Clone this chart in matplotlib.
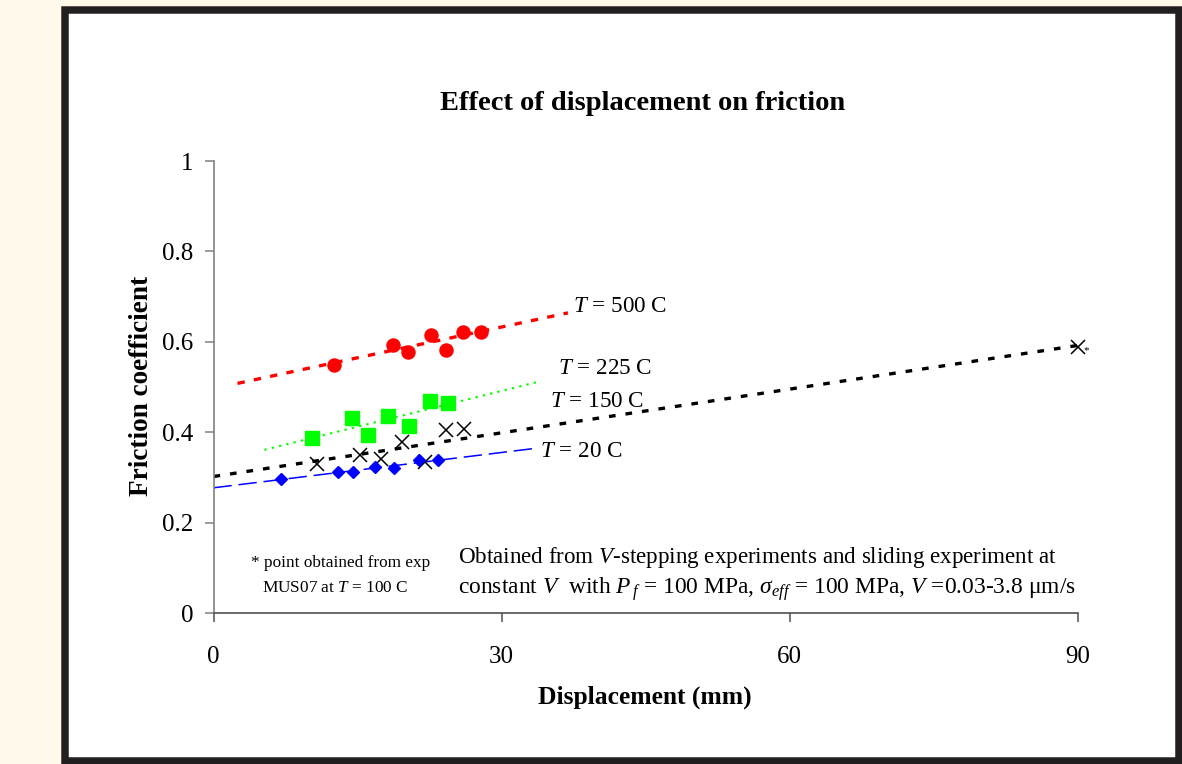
import matplotlib
matplotlib.use("Agg")
import matplotlib.pyplot as plt
from matplotlib.patches import Rectangle

plt.rcParams['font.family'] = ['Liberation Serif', 'DejaVu Serif']
plt.rcParams['mathtext.fontset'] = 'custom'
plt.rcParams['mathtext.rm'] = 'Liberation Serif'
plt.rcParams['mathtext.it'] = 'Liberation Serif:italic'
plt.rcParams['mathtext.bf'] = 'Liberation Serif:bold'

# ---------------- data ----------------
x_500 = [12.5, 18.7, 20.3, 22.6, 24.2, 26.0, 27.8]
y_500 = [0.549, 0.594, 0.578, 0.615, 0.582, 0.622, 0.622]

x_225 = [10.3, 14.4, 16.1, 18.2, 20.4, 22.5, 24.4]
y_225 = [0.388, 0.432, 0.393, 0.436, 0.414, 0.469, 0.465]

x_150 = [10.8, 15.3, 17.4, 19.6, 22.0, 24.2, 26.1, 90.0]
y_150 = [0.330, 0.350, 0.340, 0.379, 0.333, 0.405, 0.408, 0.588]

x_20 = [7.0, 13.0, 14.5, 16.8, 18.8, 21.4, 23.4]
y_20 = [0.296, 0.313, 0.312, 0.322, 0.320, 0.338, 0.338]

# trend lines (end points)
trend_500_x = [2.5, 36.9]
trend_500_y = [0.508, 0.664]
trend_225_x = [5.3, 34.1]
trend_225_y = [0.361, 0.513]
trend_150_x = [0.0, 90.0]
trend_150_y = [0.302, 0.592]
trend_20_x = [0.0, 33.4]
trend_20_y = [0.277, 0.364]

xticks = [0, 30, 60, 90]
xtick_labels = ['0', '30', '60', '90']
yticks = [0, 0.2, 0.4, 0.6, 0.8, 1.0]
ytick_labels = ['0', '0.2', '0.4', '0.6', '0.8', '1']

# ---------------- figure ----------------
W, H = 1182, 764
fig = plt.figure(figsize=(W / 100, H / 100), dpi=100, facecolor='#fef9ea')

# white framed panel
fig.patches.append(Rectangle((64.5 / W, 1 - 760.5 / H), (1178.5 - 64.5) / W, (760.5 - 10) / H,
                             transform=fig.transFigure, facecolor='white',
                             edgecolor='#231f20', linewidth=5.4, joinstyle='miter', zorder=-5))

ax_l, ax_r, ax_t, ax_b = 213.5, 1078.0, 161.0, 613.0
ax = fig.add_axes([ax_l / W, 1 - ax_b / H, (ax_r - ax_l) / W, (ax_b - ax_t) / H])
ax.set_facecolor('none')
ax.set_zorder(2)

# trend lines
ax.plot(trend_500_x, trend_500_y, color='#ff0000', lw=2.4, linestyle=(0, (2.2, 2.8)), zorder=2)
ax.plot(trend_225_x, trend_225_y, color='#00ff00', lw=1.5, linestyle=(0, (1.1, 2.5)), zorder=2)
ax.plot(trend_150_x, trend_150_y, color='black', lw=2.4, linestyle=(0, (2.0, 3.0)), zorder=2)
ax.plot(trend_20_x, trend_20_y, color='#0000ff', lw=1.1, linestyle=(0, (12, 4.5)), zorder=2)

# points
ax.plot(x_500, y_500, 'o', color='#ff0000', ms=9.4, mec='#ff0000', zorder=3)
ax.plot(x_225, y_225, 's', color='#00ff00', ms=9.4, mec='#00ff00', zorder=3)
ax.plot(x_150, y_150, 'x', color='black', ms=9.5, mew=1.1, zorder=3, clip_on=False)
ax.plot(x_20, y_20, 'D', color='#0000ff', ms=6.0, mec='#0000ff', zorder=3)

ax.set_xlim(0, 90)
ax.set_ylim(0, 1)
ax.set_xticks(xticks)
ax.set_xticklabels(xtick_labels)
ax.set_yticks(yticks)
ax.set_yticklabels(ytick_labels)

for s in ['top', 'right']:
    ax.spines[s].set_visible(False)
ax.spines['left'].set_color('#808080')
ax.spines['bottom'].set_color('#505050')
ax.spines['left'].set_linewidth(1.2)
ax.spines['bottom'].set_linewidth(1.2)
ax.tick_params(axis='y', direction='out', length=6.3, width=1.1, color='#808080',
               labelsize=18, pad=8)
ax.tick_params(axis='x', direction='out', length=6.3, width=1.1, color='#505050',
               labelsize=18, pad=17.5)

# series labels
lab_kw = dict(fontsize=16.7, va='center', ha='left', clip_on=False)
ax.text(37.4, 0.678, r'$T$ = 500 C', **lab_kw)
ax.text(35.9, 0.542, r'$T$ = 225 C', **lab_kw)
ax.text(35.0, 0.468, r'$T$ = 150 C', **lab_kw)
ax.text(34.0, 0.357, r'$T$ = 20 C', **lab_kw)
ax.text(90.9, 0.581, '*', fontsize=8, ha='center', va='center', clip_on=False)

# notes
ax.text(13.2, 0.102, '* point obtained from exp', fontsize=12.4, ha='center', va='baseline')
ax.text(12.7, 0.046, r'MUS07 at $T$ = 100 C', fontsize=12.4, ha='center', va='baseline')
ax.text(25.5, 0.111, r'Obtained from $V$-stepping experiments and sliding experiment at',
        fontsize=16.6, ha='left', va='baseline')
ax.text(25.5, 0.042,
        r'constant $V$  with $P_{\,f}$ = 100 MPa, $\sigma_{eff}$ = 100 MPa, $V$ =0.03-3.8 μm/s',
        fontsize=16.9, ha='left', va='baseline')

# titles
fig.text(643 / W, 1 - 103 / H, 'Effect of displacement on friction', fontsize=20.5,
         fontweight='bold', ha='center', va='center')
fig.text(645 / W, 1 - 697 / H, 'Displacement (mm)', fontsize=18.4, fontweight='bold',
         ha='center', va='center')
fig.text(141 / W, 1 - 386 / H, 'Friction coefficient', fontsize=19.6, fontweight='bold',
         ha='center', va='center', rotation=90)

fig.savefig('out.png', dpi=100, facecolor=fig.get_facecolor())
